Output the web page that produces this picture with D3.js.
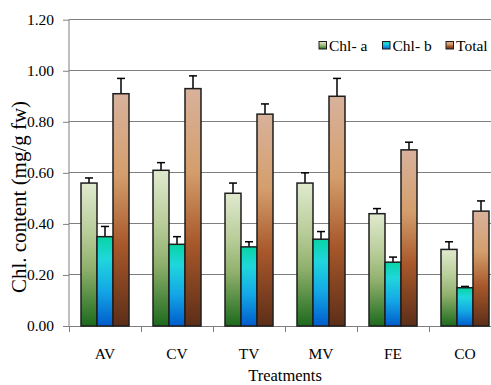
<!DOCTYPE html>
<html><head><meta charset="utf-8">
<script src="https://cdn.jsdelivr.net/npm/d3@7"></script>
<style>body{margin:0;background:#fff;}svg{display:block;}
svg text{font-family:"Liberation Serif","Times New Roman",Times,Tinos,"DejaVu Serif",serif !important;}</style>
</head><body><div id="chart"></div>
<script>
const categories = ["AV","CV","TV","MV","FE","CO"];
const seriesNames = ["Chl- a","Chl- b","Total"];
const chlA = [0.56,0.61,0.52,0.56,0.44,0.30];
const chlAErr = [0.02,0.03,0.04,0.04,0.02,0.03];
const chlB = [0.35,0.32,0.31,0.34,0.25,0.15];
const chlBErr = [0.04,0.03,0.02,0.03,0.02,0.005];
const total = [0.91,0.93,0.83,0.90,0.69,0.45];
const totalErr = [0.06,0.05,0.04,0.07,0.03,0.04];
const yTicks = [0,0.2,0.4,0.6,0.8,1.0,1.2];

const W=491,H=385;
const m={left:69,top:19.7,bottom:326,right:501};
const svg=d3.select("#chart").append("svg").attr("width",W).attr("height",H);
const defs=svg.append("defs");
const grads=[
 ["gA",[[0,"#e0eacf"],[0.35,"#b8cc98"],[0.6,"#8fb06c"],[1,"#1c6a1c"]]],
 ["gB",[[0,"#08d4a4"],[0.25,"#20d6dc"],[0.6,"#14a8e6"],[1,"#005ccc"]]],
 ["gT",[[0,"#d8b29c"],[0.35,"#d49e6c"],[0.65,"#a8582a"],[1,"#5c2e18"]]]
];
grads.forEach(([id,stops])=>{
 const g=defs.append("linearGradient").attr("id",id).attr("x1",0).attr("y1",0).attr("x2",0).attr("y2",1);
 stops.forEach(s=>g.append("stop").attr("offset",s[0]).attr("stop-color",s[1]));
});
const fills=["url(#gA)","url(#gB)","url(#gT)"];

const y=d3.scaleLinear().domain([0,1.2]).range([m.bottom,m.top]);
const x=d3.scaleBand().domain(categories).range([m.left,m.right]).paddingInner(0).paddingOuter(0);
const x1=d3.scaleBand().domain(seriesNames).range([x.bandwidth()/2-24,x.bandwidth()/2+24]);

svg.append("g").selectAll("line").data(yTicks.filter(t=>t>0)).join("line")
 .attr("x1",m.left).attr("x2",m.right).attr("y1",d=>y(d)).attr("y2",d=>y(d))
 .attr("stroke","#7f7f7f").attr("stroke-width",1).attr("shape-rendering","crispEdges");

const ya=svg.append("g").attr("transform",`translate(${m.left},0)`)
 .call(d3.axisLeft(y).tickValues(yTicks).tickFormat(d3.format(".2f")).tickSize(6).tickPadding(9));
ya.select(".domain").attr("stroke","#7f7f7f").attr("d",`M0,${m.bottom}V${m.top}`);
ya.selectAll(".tick line").attr("stroke","#7f7f7f");
ya.selectAll(".tick text").attr("font-size","15.5px").attr("fill","#000");

const xa=svg.append("g").attr("transform",`translate(0,${m.bottom})`)
 .call(d3.axisBottom(x).tickSize(0).tickPadding(22));
xa.select(".domain").attr("stroke","#7f7f7f");
xa.selectAll(".tick text").attr("font-size","15.5px").attr("fill","#000");
svg.append("g").selectAll("line").data(categories).join("line")
 .attr("x1",d=>x(d)).attr("x2",d=>x(d)).attr("y1",m.bottom).attr("y2",m.bottom+6)
 .attr("stroke","#7f7f7f").attr("shape-rendering","crispEdges");

const data=[[chlA,chlAErr],[chlB,chlBErr],[total,totalErr]];
seriesNames.forEach((s,si)=>{
 const g=svg.append("g");
 const vals=data[si][0], errs=data[si][1];
 const rows=categories.map((c,i)=>({c,v:vals[i],e:errs[i]}));
 g.selectAll("line.eb").data(rows).join("line").attr("class","eb")
  .attr("x1",d=>x(d.c)+x1(s)+x1.bandwidth()/2).attr("x2",d=>x(d.c)+x1(s)+x1.bandwidth()/2)
  .attr("y1",d=>y(d.v)).attr("y2",d=>y(d.v+d.e)).attr("stroke","#000").attr("stroke-width",1.5);
 g.selectAll("line.cap").data(rows).join("line").attr("class","cap")
  .attr("x1",d=>x(d.c)+x1(s)+x1.bandwidth()/2-4).attr("x2",d=>x(d.c)+x1(s)+x1.bandwidth()/2+4)
  .attr("y1",d=>y(d.v+d.e)).attr("y2",d=>y(d.v+d.e)).attr("stroke","#000").attr("stroke-width",1.5);
 g.selectAll("rect").data(rows).join("rect")
  .attr("x",d=>x(d.c)+x1(s)).attr("width",x1.bandwidth())
  .attr("y",d=>y(d.v)).attr("height",d=>y(0)-y(d.v))
  .attr("fill",fills[si]).attr("stroke","#1e1e1e").attr("stroke-width",1.5);
});

const legX=[319,382.5,446];
const leg=svg.append("g");
seriesNames.forEach((s,i)=>{
 leg.append("rect").attr("x",legX[i]).attr("y",41.5).attr("width",7.5).attr("height",7.5)
  .attr("fill",fills[i]).attr("stroke","#1e1e1e").attr("stroke-width",1);
 leg.append("text").attr("x",legX[i]+10).attr("y",51).attr("font-size","15.5px").text(s);
});

svg.append("text").attr("transform","translate(26,197) rotate(-90)").attr("text-anchor","middle")
 .attr("font-size","20px").attr("textLength",192).attr("lengthAdjust","spacingAndGlyphs")
 .text("Chl. content (mg/g fw)");
svg.append("text").attr("x",285).attr("y",381).attr("text-anchor","middle")
 .attr("font-size","16.5px").text("Treatments");
</script></body></html>
